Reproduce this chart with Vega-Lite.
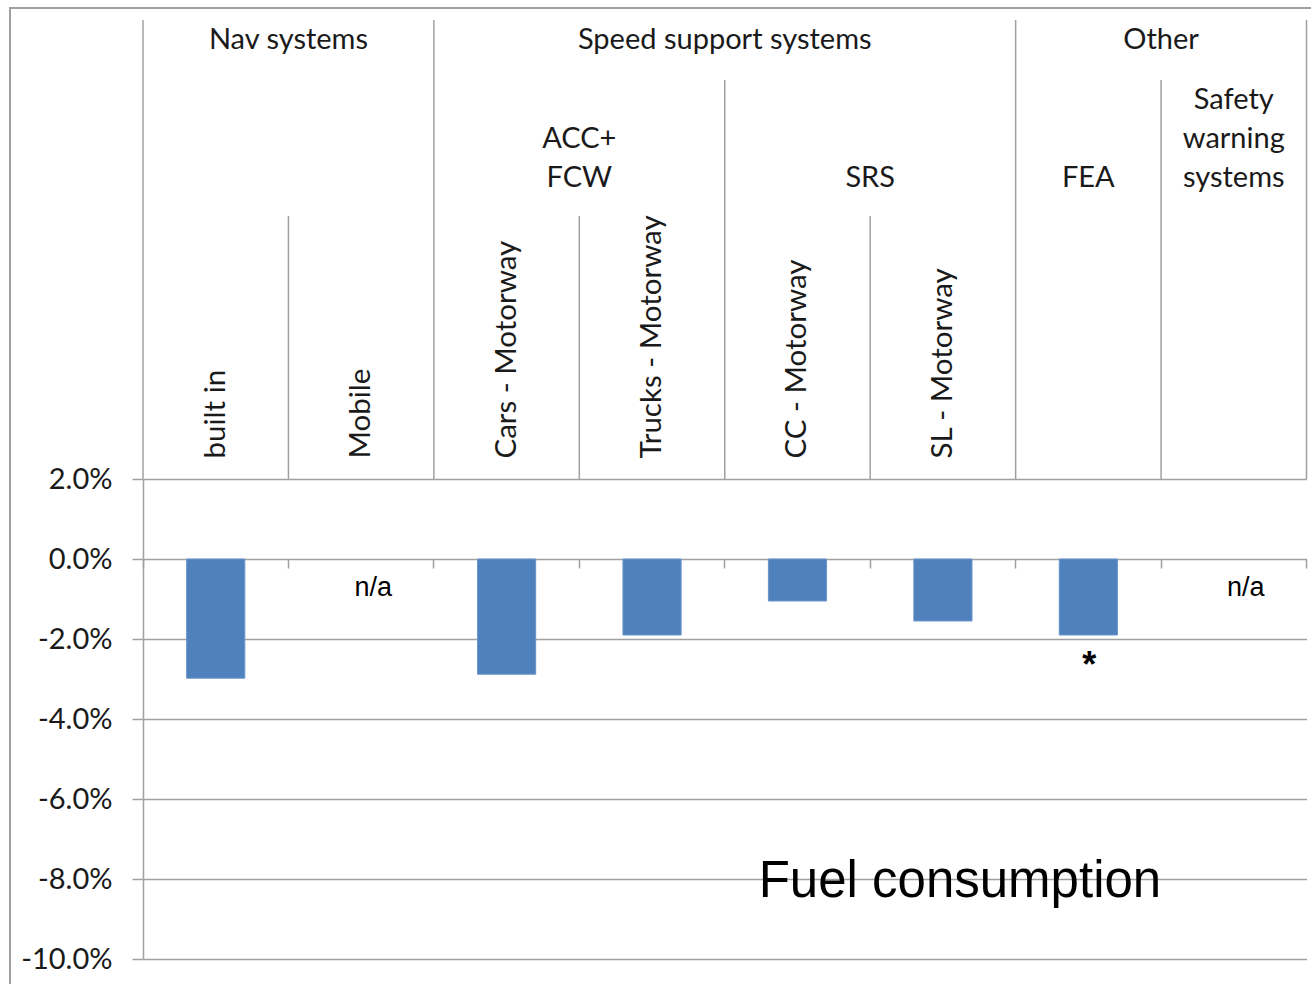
{
  "$schema": "https://vega.github.io/schema/vega-lite/v6.json",
  "width": 1305,
  "height": 980,
  "autosize": {"type": "none"},
  "padding": {"left": 10, "top": 8, "right": 0, "bottom": 0},
  "background": "white",
  "config": {"view": {"stroke": "#a0a0a0", "strokeWidth": 2}, "font": "Lato"},
  "datasets": {
    "bars": [
      {"cat": "built in", "value": -0.0298, "note": ""},
      {"cat": "Mobile", "value": null, "note": "n/a"},
      {"cat": "Cars - Motorway", "value": -0.0288, "note": ""},
      {"cat": "Trucks - Motorway", "value": -0.019, "note": ""},
      {"cat": "CC - Motorway", "value": -0.0105, "note": ""},
      {"cat": "SL - Motorway", "value": -0.0155, "note": ""},
      {"cat": "FEA", "value": -0.019, "note": "*"},
      {"cat": "Safety warning systems", "value": null, "note": "n/a"}
    ],
    "lines": [
      {"cat": "built in", "depth": 1, "side": "left"},
      {"cat": "Mobile", "depth": 3, "side": "left"},
      {"cat": "Cars - Motorway", "depth": 1, "side": "left"},
      {"cat": "Trucks - Motorway", "depth": 3, "side": "left"},
      {"cat": "CC - Motorway", "depth": 2, "side": "left"},
      {"cat": "SL - Motorway", "depth": 3, "side": "left"},
      {"cat": "FEA", "depth": 1, "side": "left"},
      {"cat": "Safety warning systems", "depth": 2, "side": "left"},
      {"cat": "Safety warning systems", "depth": 1, "side": "right"}
    ],
    "groups": [
      {"label": "Nav systems", "cat": "Mobile", "depth": 1, "place": "boundary"},
      {"label": "Speed support systems", "cat": "CC - Motorway", "depth": 1, "place": "boundary"},
      {"label": "Other", "cat": "Safety warning systems", "depth": 1, "place": "boundary"},
      {"label": "ACC+\nFCW", "cat": "Trucks - Motorway", "depth": 3, "place": "boundary"},
      {"label": "SRS", "cat": "SL - Motorway", "depth": 3, "place": "boundary"},
      {"label": "FEA", "cat": "FEA", "depth": 3, "place": "center"},
      {"label": "Safety\nwarning\nsystems", "cat": "Safety warning systems", "depth": 3, "place": "center"}
    ]
  },
  "layer": [
    {
      "data": {"name": "bars"},
      "layer": [
        {
          "mark": {"type": "bar", "color": "#4F81BD", "stroke": "#6a95cc", "strokeWidth": 1},
          "encoding": {
            "x": {
              "field": "cat", "type": "nominal", "sort": null,
              "scale": {
                "domain": ["built in", "Mobile", "Cars - Motorway", "Trucks - Motorway", "CC - Motorway", "SL - Motorway", "FEA", "Safety warning systems"],
                "range": [133, 1296.5], "paddingInner": 0.6, "paddingOuter": 0.3
              },
              "axis": {
                "orient": "top", "offset": -471, "title": null,
                "labelAngle": -90, "labelAlign": "left", "labelBaseline": "middle",
                "labelPadding": 21, "labelLimit": 0, "labelFont": "Lato", "labelFontSize": 29.5,
                "labelColor": "#1a1a1a", "ticks": false, "domain": false, "grid": false,
                "labelExpr": "datum.value == 'FEA' || datum.value == 'Safety warning systems' ? '' : datum.value"
              }
            },
            "y": {
              "field": "value", "type": "quantitative",
              "scale": {"domain": [-0.1, 0.02], "range": [951, 471], "nice": false, "zero": false},
              "axis": {
                "orient": "left", "offset": -133, "title": null,
                "values": [-0.1, -0.08, -0.06, -0.04, -0.02, 0, 0.02],
                "format": ".1%", "labelExpr": "replace(datum.label, '\u2212', '-')",
                "grid": true, "gridColor": "#a0a0a0", "gridWidth": 1.5,
                "domainColor": "#a0a0a0", "domainWidth": 1.5,
                "tickColor": "#a0a0a0", "tickWidth": 1.5, "tickSize": 11,
                "labelPadding": 20, "labelFont": "Lato", "labelFontSize": 29, "labelColor": "#1a1a1a"
              }
            },
            "y2": {"datum": 0}
          }
        },
        {
          "transform": [{"filter": "datum.note == 'n/a'"}],
          "mark": {"type": "text", "font": "Liberation Sans", "fontSize": 27, "color": "#000", "baseline": "alphabetic", "dy": 37, "dx": 12},
          "encoding": {
            "x": {"field": "cat", "type": "nominal"},
            "y": {"datum": 0},
            "text": {"field": "note"}
          }
        },
        {
          "transform": [{"filter": "datum.note == '*'"}],
          "mark": {"type": "text", "font": "Liberation Sans", "fontSize": 36, "fontWeight": "bold", "color": "#000", "baseline": "alphabetic", "dy": 42, "dx": 1},
          "encoding": {
            "x": {"field": "cat", "type": "nominal"},
            "y": {"field": "value", "type": "quantitative"},
            "text": {"field": "note"}
          }
        },
        {
          "data": {"values": [{"label": "Fuel consumption"}]},
          "mark": {"type": "text", "font": "Liberation Sans", "fontSize": 51, "color": "#000", "baseline": "alphabetic", "align": "center", "dy": 18, "dx": 17},
          "encoding": {
            "x": {"datum": "SL - Motorway"},
            "y": {"datum": -0.08},
            "text": {"field": "label"}
          }
        }
      ]
    },
    {
      "layer": [
        {
          "data": {"name": "lines"},
          "transform": [{"filter": "datum.side == 'left'"}],
          "mark": {"type": "rule", "color": "#a0a0a0", "strokeWidth": 1.5},
          "encoding": {
            "x": {
              "field": "cat", "type": "nominal", "sort": null, "bandPosition": 0,
              "scale": {
                "domain": ["built in", "Mobile", "Cars - Motorway", "Trucks - Motorway", "CC - Motorway", "SL - Motorway", "FEA", "Safety warning systems"],
                "range": [133, 1296.5], "paddingInner": 0, "paddingOuter": 0
              },
              "axis": {
                "orient": "bottom", "offset": -429, "title": null, "bandPosition": 1, "tickExtra": true,
                "labels": false, "domain": false, "grid": false,
                "ticks": true, "tickSize": 9, "tickColor": "#a0a0a0", "tickWidth": 1.5
              }
            },
            "y": {
              "field": "depth", "type": "quantitative",
              "scale": {"domain": [1, 2, 3, 4], "range": [12, 72, 208, 471], "nice": false, "zero": false},
              "axis": null
            },
            "y2": {"datum": 4}
          }
        },
        {
          "data": {"name": "lines"},
          "transform": [{"filter": "datum.side == 'right'"}],
          "mark": {"type": "rule", "color": "#a0a0a0", "strokeWidth": 1.5},
          "encoding": {
            "x": {"field": "cat", "type": "nominal", "bandPosition": 1},
            "y": {"field": "depth", "type": "quantitative"},
            "y2": {"datum": 4}
          }
        },
        {
          "data": {"name": "groups"},
          "transform": [{"filter": "datum.depth == 1"}],
          "mark": {"type": "text", "font": "Lato", "fontSize": 29, "color": "#1a1a1a", "baseline": "alphabetic", "align": "center", "dy": 29},
          "encoding": {
            "x": {"field": "cat", "type": "nominal", "bandPosition": 0},
            "y": {"field": "depth", "type": "quantitative"},
            "text": {"field": "label"}
          }
        },
        {
          "data": {"name": "groups"},
          "transform": [{"filter": "datum.depth == 3 && datum.place == 'boundary' && length(split(datum.label, '\\n')) == 1"}],
          "mark": {"type": "text", "font": "Lato", "fontSize": 29, "color": "#1a1a1a", "baseline": "bottom", "align": "center", "dy": -23, "lineBreak": "\n", "lineHeight": 39},
          "encoding": {
            "x": {"field": "cat", "type": "nominal", "bandPosition": 0},
            "y": {"field": "depth", "type": "quantitative"},
            "text": {"field": "label"}
          }
        },
        {
          "data": {"name": "groups"},
          "transform": [{"filter": "datum.depth == 3 && datum.place == 'boundary' && length(split(datum.label, '\\n')) == 2"}],
          "mark": {"type": "text", "font": "Lato", "fontSize": 29, "color": "#1a1a1a", "baseline": "bottom", "align": "center", "dy": -62, "lineBreak": "\n", "lineHeight": 39},
          "encoding": {
            "x": {"field": "cat", "type": "nominal", "bandPosition": 0},
            "y": {"field": "depth", "type": "quantitative"},
            "text": {"field": "label"}
          }
        },
        {
          "data": {"name": "groups"},
          "transform": [{"filter": "datum.depth == 3 && datum.place == 'center' && length(split(datum.label, '\\n')) == 1"}],
          "mark": {"type": "text", "font": "Lato", "fontSize": 29, "color": "#1a1a1a", "baseline": "bottom", "align": "center", "dy": -23, "lineBreak": "\n", "lineHeight": 39},
          "encoding": {
            "x": {"field": "cat", "type": "nominal", "bandPosition": 0.5},
            "y": {"field": "depth", "type": "quantitative"},
            "text": {"field": "label"}
          }
        },
        {
          "data": {"name": "groups"},
          "transform": [{"filter": "datum.depth == 3 && datum.place == 'center' && length(split(datum.label, '\\n')) == 3"}],
          "mark": {"type": "text", "font": "Lato", "fontSize": 29, "color": "#1a1a1a", "baseline": "bottom", "align": "center", "dy": -101, "lineBreak": "\n", "lineHeight": 39},
          "encoding": {
            "x": {"field": "cat", "type": "nominal", "bandPosition": 0.5},
            "y": {"field": "depth", "type": "quantitative"},
            "text": {"field": "label"}
          }
        }
      ]
    }
  ],
  "resolve": {
    "scale": {"x": "independent", "y": "independent"},
    "axis": {"x": "independent", "y": "independent"}
  }
}
